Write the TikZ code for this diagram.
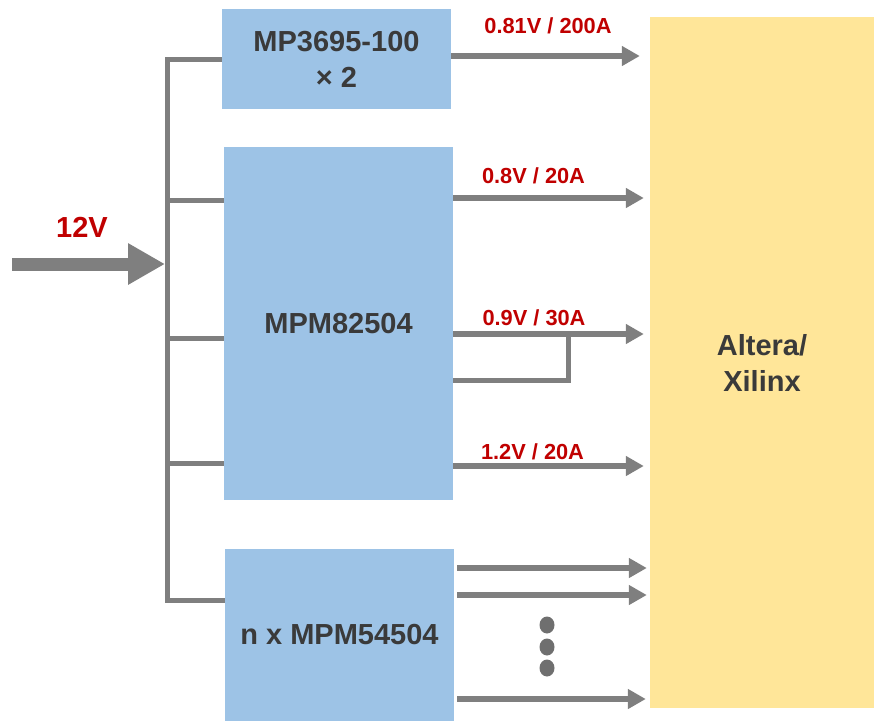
\documentclass[tikz,border=0pt]{standalone}
\usepackage{fontspec}
\setmainfont{Liberation Sans}
\usetikzlibrary{arrows.meta}
\definecolor{boxblue}{HTML}{9DC3E6}
\definecolor{fpgayellow}{HTML}{FFE699}
\definecolor{linegray}{HTML}{7F7F7F}
\definecolor{dotgray}{HTML}{6F6F6F}
\definecolor{txtdark}{HTML}{3A3A3A}
\definecolor{lblred}{HTML}{C00000}
\tikzset{
  blk/.style={fill=boxblue, draw=none, inner sep=0pt, align=center, text=txtdark,
    font=\fontsize{29}{36}\selectfont\bfseries},
  fpgabox/.style={fill=fpgayellow, draw=none, inner sep=0pt, align=center, text=txtdark,
    font=\fontsize{29}{36}\selectfont\bfseries},
  bus/.style={draw=linegray, line width=5pt, line join=miter},
  outarr/.style={draw=linegray, line width=5.5pt, -{Triangle[length=18pt,width=19pt]}},
  inarr/.style={draw=linegray, line width=13pt, -{Triangle[length=37pt,width=39pt]}},
  lbl/.style={text=lblred, inner sep=0pt, anchor=base, font=\fontsize{21.8}{25}\selectfont\bfseries},
  biglbl/.style={text=lblred, inner sep=0pt, anchor=base, font=\fontsize{29}{34}\selectfont\bfseries},
}
\begin{document}
\begin{tikzpicture}[x=1pt,y=-1pt]
\useasboundingbox (0,0) rectangle (874,721);
% boxes
\node[blk, minimum width=229pt, minimum height=100pt] (mp) at (336.5,59) {MP3695-100\\× 2};
\node[blk, minimum width=229pt, minimum height=353pt] (mpm8) at (338.5,323.5) {MPM82504};
\node[blk, minimum width=229pt, minimum height=172pt] (mpm5) at (339.5,635) {n x MPM54504};
\node[fpgabox, minimum width=224pt, minimum height=691pt] (fpga) at (762,362.5) {Altera/\\Xilinx};
% bus
\coordinate (bt) at (167,59);
\coordinate (bb) at (167,600);
\coordinate (in) at (12,264);
\coordinate (tip) at (165,264);
\draw[bus] (mp.west |- bt) -- (bt) -- (bb) -- (mpm5.west |- bb);
\draw[bus] (167,200) -- (mpm8.west |- 0,200);
\draw[bus] (167,338) -- (mpm8.west |- 0,338);
\draw[bus] (167,463) -- (mpm8.west |- 0,463);
% input
\draw[inarr] (in) -- (tip);
\node[biglbl] (v12) at (82,237) {12V};
% outputs
\draw[outarr, shorten >=10pt] (mp.east |- 0,56) -- (fpga.west |- 0,56);
\draw[outarr, shorten >=6pt] (mpm8.east |- 0,198) -- (fpga.west |- 0,198);
\draw[outarr, shorten >=6pt] (mpm8.east |- 0,334) -- (fpga.west |- 0,334);
\coordinate (fb) at (568,334);
\draw[bus] (mpm8.east |- 0,380) -| (fb);
\draw[outarr, shorten >=6pt] (mpm8.east |- 0,466) -- (fpga.west |- 0,466);
\draw[outarr, shorten <=3pt, shorten >=3pt] (mpm5.east |- 0,568) -- (fpga.west |- 0,568);
\draw[outarr, shorten <=3pt, shorten >=3pt] (mpm5.east |- 0,595) -- (fpga.west |- 0,595);
\draw[outarr, shorten <=3pt, shorten >=4pt] (mpm5.east |- 0,699) -- (fpga.west |- 0,699);
% labels
\node[lbl] (l1) at (548,33) {0.81V / 200A};
\node[lbl] (l2) at (533.5,183) {0.8V / 20A};
\node[lbl] (l3) at (534,325) {0.9V / 30A};
\node[lbl] (l4) at (532.5,459) {1.2V / 20A};
% dots
\fill[dotgray] (547,625) ellipse [x radius=7.5, y radius=8.5];
\fill[dotgray] (547,647) ellipse [x radius=7.5, y radius=8.5];
\fill[dotgray] (547,668) ellipse [x radius=7.5, y radius=8.5];
\end{tikzpicture}
\end{document}
